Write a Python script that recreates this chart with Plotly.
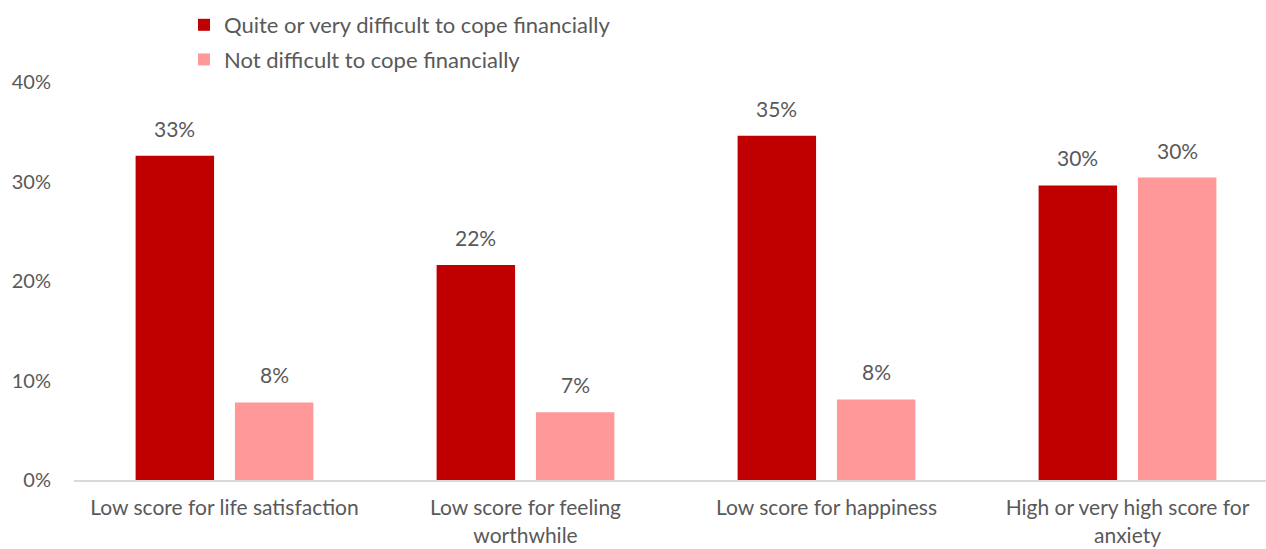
import plotly.graph_objects as go

categories = [
    "Low score for life satisfaction",
    "Low score for feeling<br>worthwhile",
    "Low score for happiness",
    "High or very high score for<br>anxiety",
]
difficult = [32.6, 21.6, 34.6, 29.6]
not_difficult = [7.8, 6.8, 8.1, 30.4]
series_names = ["Quite or very difficult to cope financially", "Not difficult to cope financially"]
y_ticks = [0, 10, 20, 30, 40]
y_tick_labels = ["0%", "10%", "20%", "30%", "40%"]

DARK = "#C00000"
LIGHT = "#FF9999"
TEXT = "#595959"
FONT = "Lato, Open Sans, sans-serif"

W, H = 1266, 549
left, right, top, bottom = 74, 0, 82, 69
slot = 301.0  # pixel width per category
x_span = (W - left - right) / slot
bargap = 0.34
offset = (1 - bargap) / 4

fig = go.Figure()
for k, (name, vals, color) in enumerate([(series_names[0], difficult, DARK), (series_names[1], not_difficult, LIGHT)]):
    fig.add_trace(go.Bar(
        x=list(range(len(categories))), y=vals, name=name, legendgroup=f"g{k}",
        marker=dict(color=color, line=dict(width=0)),
    ))

# value labels above each bar
for sign, vals in [(-1, difficult), (1, not_difficult)]:
    for i, v in enumerate(vals):
        fig.add_annotation(
            x=i + sign * offset, y=v, text=f"{v:.0f}%", showarrow=False,
            yanchor="bottom", yshift=13, font=dict(family=FONT, size=21, color=TEXT),
        )

fig.update_layout(
    width=W, height=H,
    margin=dict(l=left, r=right, t=top, b=bottom, pad=0, autoexpand=False),
    paper_bgcolor="white", plot_bgcolor="white",
    barmode="group", bargap=bargap, bargroupgap=0.21,
    font=dict(family=FONT, size=20, color=TEXT),
    showlegend=True,
    legend=dict(
        orientation="v", xref="container", yref="container",
        x=184 / W, y=1 - 4 / H, xanchor="left", yanchor="top",
        font=dict(family=FONT, size=22, color=TEXT),
        itemwidth=30, tracegroupgap=3, bgcolor="rgba(0,0,0,0)",
    ),
    xaxis=dict(
        tickmode="array", tickvals=list(range(len(categories))), ticktext=categories,
        range=[-0.5, -0.5 + x_span], showgrid=False, zeroline=False,
        showline=True, linecolor="#D9D9D9", linewidth=2, ticks="",
        tickangle=0, automargin=False,
        ticklabelstandoff=8, tickfont=dict(family=FONT, size=21, color=TEXT),
    ),
    yaxis=dict(
        range=[0, 40], tickmode="array", tickvals=y_ticks, ticktext=y_tick_labels,
        showgrid=False, zeroline=False, showline=False, ticks="", automargin=False,
        ticklabelstandoff=22, tickfont=dict(family=FONT, size=20, color=TEXT),
    ),
)

fig.write_html("out.html")
